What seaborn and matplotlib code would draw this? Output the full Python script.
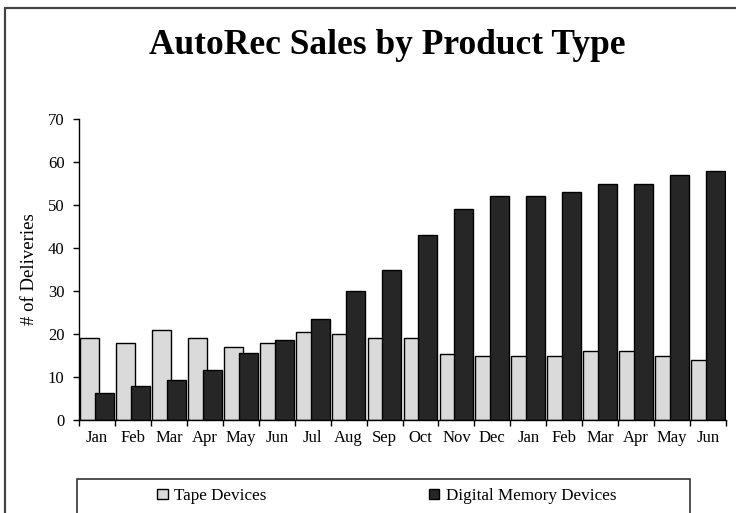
import numpy as np
import pandas as pd
import matplotlib
matplotlib.use("Agg")
import matplotlib.pyplot as plt
import seaborn as sns
from matplotlib.lines import Line2D
from matplotlib.patches import Rectangle
from matplotlib.ticker import FixedLocator

months = ["Jan", "Feb", "Mar", "Apr", "May", "Jun", "Jul", "Aug", "Sep", "Oct",
          "Nov", "Dec", "Jan", "Feb", "Mar", "Apr", "May", "Jun"]
tape = [19, 18, 21, 19, 17, 18, 20.5, 20, 19, 19, 15.3, 15, 15, 15, 16, 16, 15, 14]
digital = [6.3, 8, 9.4, 11.6, 15.6, 18.6, 23.5, 30, 35, 43, 49, 52, 52, 53, 55, 55, 57, 58]
series_names = ["Tape Devices", "Digital Memory Devices"]
title = "AutoRec Sales by Product Type"
ylabel = "# of Deliveries"
yticks = [0, 10, 20, 30, 40, 50, 60, 70]

n = len(months)
df = pd.DataFrame({
    "period": list(range(n)) * 2,
    "series": [series_names[0]] * n + [series_names[1]] * n,
    "value": tape + digital,
})

sns.set_theme(style="white")
plt.rcParams["font.family"] = ["Liberation Serif", "DejaVu Serif"]
plt.rcParams["text.color"] = "black"

W, H = 736, 513
fig = plt.figure(figsize=(W / 100, H / 100), dpi=100)
fig.patch.set_facecolor("white")
ax = fig.add_axes([79 / W, 1 - 420 / H, (726 - 79) / W, (420 - 119) / H])

sns.barplot(data=df, x="period", y="value", hue="series",
            hue_order=series_names,
            palette=["#DADADA", "#262626"], order=list(range(n)),
            width=0.82, gap=-0.29, edgecolor="black", linewidth=1.0,
            saturation=1, ax=ax)

ax.set_xlim(-0.5, n - 0.5)
ax.set_ylim(0, 70)
ax.set_yticks(yticks)
ax.set_yticklabels([str(v) for v in yticks], fontsize=12, color="black")

# category boundaries as tick marks, labels at centers
ax.xaxis.set_major_locator(FixedLocator(np.arange(-0.5, n, 1.0)))
ax.set_xticklabels([""] * (n + 1))
ax.xaxis.set_minor_locator(FixedLocator(np.arange(n)))
ax.set_xticklabels(months, minor=True, fontsize=12, color="black")
ax.tick_params(axis="x", which="major", direction="out", length=4.5, width=1, color="black", bottom=True)
ax.tick_params(axis="x", which="minor", length=0, pad=7, bottom=True)
ax.tick_params(axis="y", direction="out", length=4.5, width=1, color="black", pad=6, left=True)

ax.set_xlabel("")
ax.set_ylabel(ylabel, fontsize=13.5, labelpad=7, color="black")
for s in ["top", "right"]:
    ax.spines[s].set_visible(False)
for s in ["left", "bottom"]:
    ax.spines[s].set_color("black")
    ax.spines[s].set_linewidth(1.0)
ax.set_facecolor("white")

fig.text(387 / W, 1 - 45 / H, title, ha="center", va="center",
         fontsize=25.5, fontweight="bold", color="black")

# legend
sns.move_legend(ax, loc="center left", bbox_to_anchor=(142 / W, 1 - 496 / H),
                bbox_transform=fig.transFigure, ncol=2, frameon=False,
                title=None, fontsize=12.3, handlelength=0.6, handleheight=0.6,
                handletextpad=0.4, columnspacing=9.5)
fig.patches.append(Rectangle((77 / W, -0.05), (690 - 77) / W, (1 - 479 / H) + 0.05,
                             transform=fig.transFigure, fill=False,
                             edgecolor="#333333", linewidth=1.2))

# outer frame (top and left)
fig.add_artist(Line2D([5 / W, 1], [1 - 8 / H, 1 - 8 / H], transform=fig.transFigure,
                      color="#444444", linewidth=1.6))
fig.add_artist(Line2D([5 / W, 5 / W], [0, 1 - 8 / H], transform=fig.transFigure,
                      color="#444444", linewidth=1.6))

fig.savefig("out.png", dpi=100, facecolor="white")
